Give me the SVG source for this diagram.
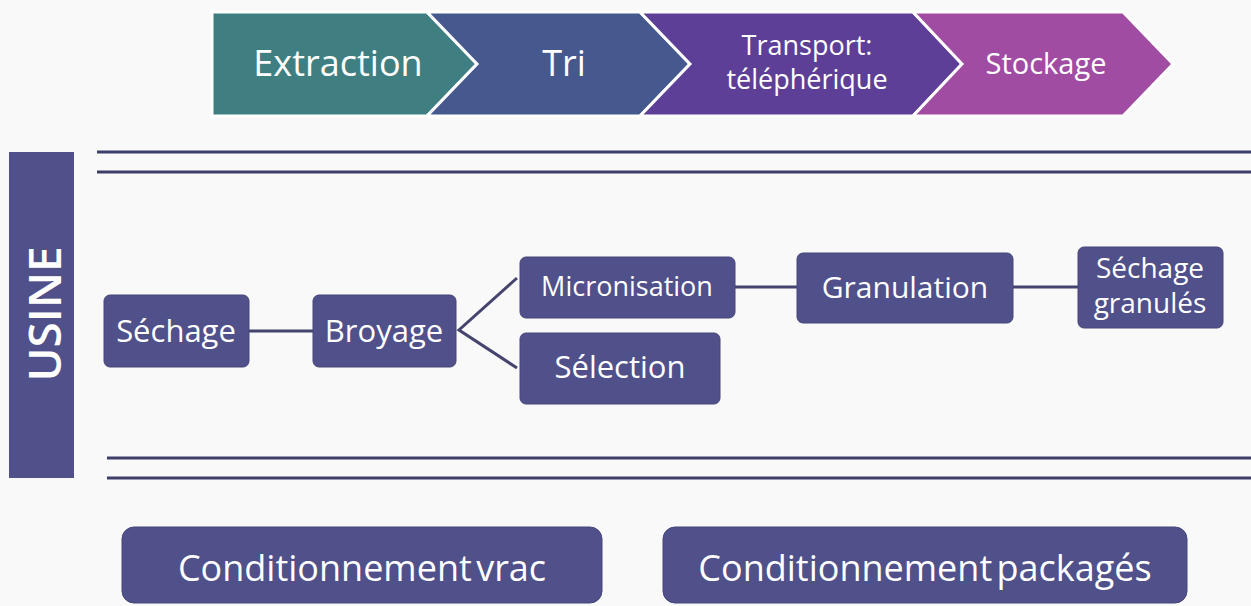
<svg xmlns="http://www.w3.org/2000/svg" width="1251" height="606" viewBox="0 0 1251 606">
<style>
text{font-family:"Open Sans","Noto Sans","DejaVu Sans",sans-serif;fill:#ffffff;text-anchor:middle}
.chev{stroke:#ffffff;stroke-width:3;stroke-linejoin:miter}
.box{fill:#50508a;stroke:#46467a;stroke-width:1}
.rule{stroke:#3e3e6a;stroke-width:3;fill:none}
.conn{stroke:#44446e;stroke-width:3;fill:none}
</style>
<rect width="1251" height="606" fill="#f9f9f9"/>
<g id="chevrons">
<g id="extraction">
<polygon class="chev" points="212,12 427,12 477,64 427,116 212,116" fill="#3f7f81"/>
<text x="338" y="76" font-size="36">Extraction</text>
</g>
<g id="tri">
<polygon class="chev" points="427,12 640,12 690,64 640,116 427,116 477,64" fill="#45598f"/>
<text x="564" y="76" font-size="36">Tri</text>
</g>
<g id="transport">
<polygon class="chev" points="640,12 913,12 962,64 913,116 640,116 690,64" fill="#5e3f98"/>
<text x="807" y="55" font-size="27">Transport:</text>
<text x="807" y="89" font-size="27">téléphérique</text>
</g>
<g id="stockage">
<polygon class="chev" points="913,12 1123,12 1173,64 1123,116 913,116 962,64" fill="#a04ca3"/>
<text x="1046" y="74" font-size="29">Stockage</text>
</g>
</g>
<g id="usine">
<rect x="9" y="152" width="65" height="326" fill="#50508a"/>
<text transform="translate(61,314) rotate(-90)" font-size="46" font-weight="600">USINE</text>
</g>
<g id="rules">
<line class="rule" x1="97" y1="152" x2="1251" y2="152"/>
<line class="rule" x1="97" y1="172" x2="1251" y2="172"/>
<line class="rule" x1="107" y1="458" x2="1251" y2="458"/>
<line class="rule" x1="107" y1="478" x2="1251" y2="478"/>
</g>
<g id="connectors">
<line class="conn" x1="249" y1="331" x2="313" y2="331"/>
<polyline class="conn" points="517,278 459,330 517,368"/>
<line class="conn" x1="735" y1="287" x2="797" y2="287"/>
<line class="conn" x1="1013" y1="287" x2="1078" y2="287"/>
</g>
<g id="sechage">
<rect class="box" x="104" y="295" width="145" height="72" rx="6"/>
<text x="176" y="342" font-size="31">Séchage</text>
</g>
<g id="broyage">
<rect class="box" x="313" y="295" width="143" height="72" rx="6"/>
<text x="384" y="342" font-size="31">Broyage</text>
</g>
<g id="micronisation">
<rect class="box" x="520" y="257" width="215" height="61" rx="6"/>
<text x="627" y="296" font-size="27">Micronisation</text>
</g>
<g id="selection">
<rect class="box" x="520" y="333" width="200" height="71" rx="6"/>
<text x="620" y="378" font-size="31">Sélection</text>
</g>
<g id="granulation">
<rect class="box" x="797" y="253" width="216" height="70" rx="6"/>
<text x="905" y="298" font-size="30">Granulation</text>
</g>
<g id="sechage-granules">
<rect class="box" x="1078" y="247" width="145" height="81" rx="6"/>
<text x="1150" y="278" font-size="28">Séchage</text>
<text x="1150" y="313" font-size="28">granulés</text>
</g>
<g id="cond-vrac">
<rect class="box" x="122" y="527" width="480" height="76" rx="12"/>
<text x="362" y="581" font-size="36" word-spacing="-5">Conditionnement vrac</text>
</g>
<g id="cond-packages">
<rect class="box" x="663" y="527" width="524" height="76" rx="12"/>
<text x="925" y="581" font-size="36" word-spacing="-5">Conditionnement packagés</text>
</g>
</svg>
